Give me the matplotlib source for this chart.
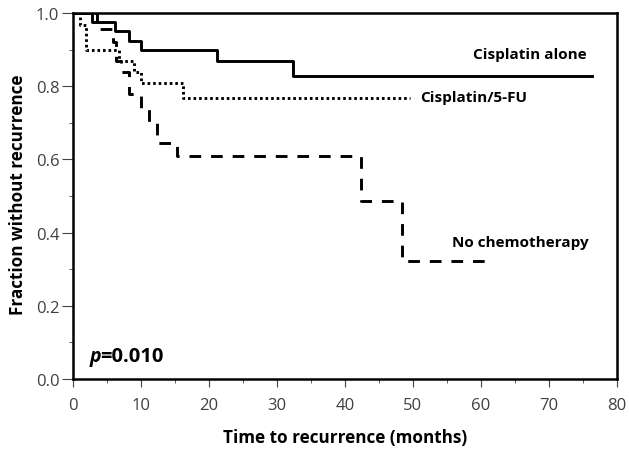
import numpy as np
import matplotlib
matplotlib.use("Agg")
import matplotlib.pyplot as plt
from matplotlib.ticker import MultipleLocator

plt.rcParams['font.family'] = ['Open Sans', 'DejaVu Sans']

# step curves (time in months, fraction without recurrence)
alone_t = [0, 2.8, 6.1, 8.2, 10.0, 21.2, 32.4, 76.3]
alone_y = [1.0, 0.976, 0.95, 0.923, 0.90, 0.868, 0.827, 0.827]

fu_t = [0, 1.0, 1.9, 6.8, 9.0, 10.0, 16.1, 49.6]
fu_y = [1.0, 0.967, 0.90, 0.87, 0.84, 0.81, 0.767, 0.767]

none_t = [0, 3.5, 5.8, 6.3, 7.0, 8.2, 10.0, 11.2, 12.3, 15.2, 42.4, 48.4, 61.4]
none_y = [1.0, 0.955, 0.92, 0.87, 0.84, 0.78, 0.74, 0.70, 0.645, 0.608, 0.487, 0.322, 0.322]

fig = plt.figure(figsize=(6.29, 4.52), dpi=100)
ax = fig.add_axes([0.1165, 0.1593, 0.864, 0.8097])

ax.step(alone_t, alone_y, where='post', color='black', lw=2.1)
ax.step(fu_t, fu_y, where='post', color='black', lw=2.1, dashes=(0.9, 1.0))
ax.step(none_t, none_y, where='post', color='black', lw=2.1, dashes=(4.0, 3.4))

ax.text(75.5, 0.888, "Cisplatin alone", ha='right', va='center', fontsize=11, fontweight='bold')
ax.text(51.0, 0.77, "Cisplatin/5-FU", ha='left', va='center', fontsize=11, fontweight='bold')
ax.text(75.8, 0.374, "No chemotherapy", ha='right', va='center', fontsize=11, fontweight='bold')
ax.text(2.4, 0.063, "p", ha='left', va='center', fontsize=14, fontweight='bold', style='italic')
ax.text(4.0, 0.063, "=0.010", ha='left', va='center', fontsize=14.5, fontweight='bold')

ax.set_xlim(0, 80)
ax.set_ylim(0, 1.0)
ax.xaxis.set_major_locator(MultipleLocator(10))
ax.xaxis.set_minor_locator(MultipleLocator(5))
ax.yaxis.set_major_locator(MultipleLocator(0.2))
ax.yaxis.set_minor_locator(MultipleLocator(0.1))
ax.yaxis.set_major_formatter(plt.FuncFormatter(lambda v, p: f"{v:.1f}"))
ax.tick_params(which='both', direction='out', color='#444444', labelcolor='#404040', labelsize=12)
ax.tick_params(axis='x', which='major', length=6, pad=7)
ax.tick_params(axis='y', which='major', length=8, pad=2)
ax.tick_params(which='minor', length=3)
for s in ax.spines.values():
    s.set_linewidth(1.8)

ax.set_xlabel("Time to recurrence (months)", fontsize=12.3, fontweight='bold')
ax.set_ylabel("Fraction without recurrence", fontsize=12.3, fontweight='bold')
ax.xaxis.set_label_coords(0.5, -0.135)
ax.yaxis.set_label_coords(-0.086, 0.505)

fig.savefig("out.png", dpi=100)
